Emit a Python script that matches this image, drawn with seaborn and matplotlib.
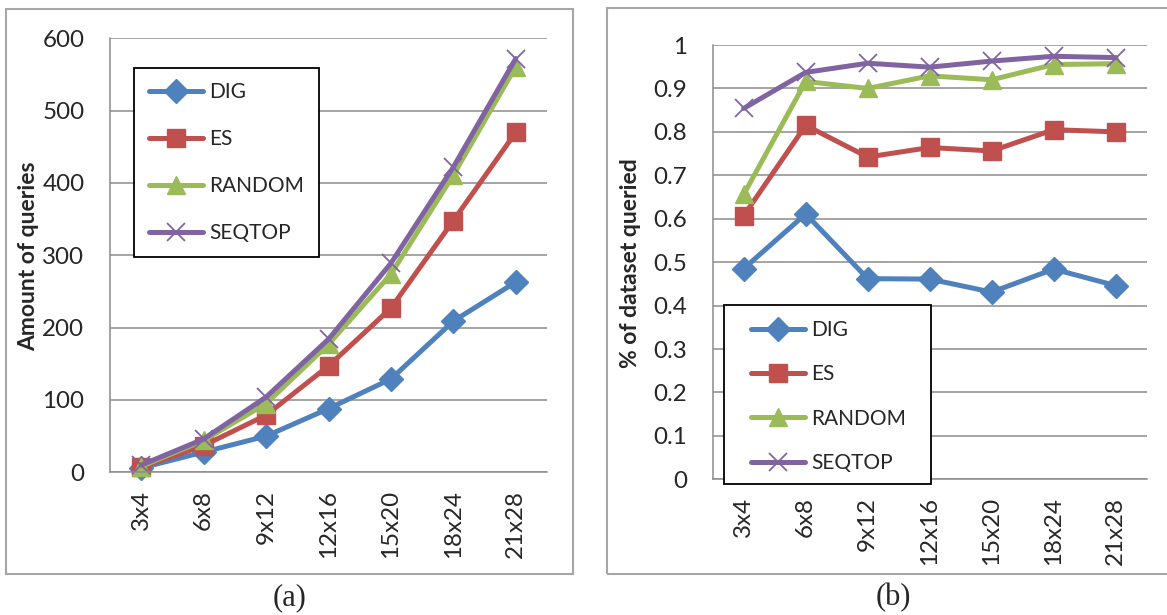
import numpy as np
import matplotlib
matplotlib.use("Agg")
import matplotlib.pyplot as plt
import seaborn as sns
from matplotlib.patches import Rectangle
from matplotlib.ticker import FuncFormatter

# ---------------- data ----------------
categories = ["3x4", "6x8", "9x12", "12x16", "15x20", "18x24", "21x28"]
series_names = ["DIG", "ES", "RANDOM", "SEQTOP"]

# (a) Amount of queries
a_dig = [6, 28, 50, 88, 129, 209, 263]
a_es = [7, 37, 79, 147, 227, 348, 470]
a_random = [8, 44, 95, 177, 274, 411, 561]
a_seqtop = [10, 46, 104, 184, 289, 422, 572]

# (b) % of dataset queried
b_dig = [0.485, 0.611, 0.462, 0.461, 0.431, 0.484, 0.446]
b_es = [0.607, 0.815, 0.742, 0.764, 0.756, 0.805, 0.800]
b_random = [0.656, 0.916, 0.900, 0.929, 0.920, 0.955, 0.957]
b_seqtop = [0.854, 0.937, 0.958, 0.949, 0.963, 0.974, 0.971]

a_yticks = [0, 100, 200, 300, 400, 500, 600]
b_yticks = [0, 0.1, 0.2, 0.3, 0.4, 0.5, 0.6, 0.7, 0.8, 0.9, 1.0]

# ---------------- style ----------------
sns.set_style("white")
plt.rcParams['font.family'] = ['Lato', 'DejaVu Sans']

colors = {"DIG": "#4F81BD", "ES": "#C0504D", "RANDOM": "#9BBB59", "SEQTOP": "#8064A2"}
markers = {"DIG": "D", "ES": "s", "RANDOM": "^", "SEQTOP": "x"}
msizes = {"DIG": 12, "ES": 13, "RANDOM": 13.5, "SEQTOP": 13.5}
GRID = "#8c8c8c"
BORDER = "#a6a6a6"

W, H = 1167, 615
fig = plt.figure(figsize=(W / 100, H / 100), dpi=100)


def px_axes(x0, y0, x1, y1):
    return fig.add_axes([x0 / W, 1 - y1 / H, (x1 - x0) / W, (y1 - y0) / H])


def fig_rect(x0, y0, x1, y1, **kw):
    r = Rectangle((x0 / W, 1 - y1 / H), (x1 - x0) / W, (y1 - y0) / H,
                  transform=fig.transFigure, clip_on=False, **kw)
    return r


def draw_panel(ax, data, ylim, yticks, fmt):
    pos = np.arange(len(categories))
    for name, vals in zip(series_names, data):
        filled = markers[name] != "x"
        sns.lineplot(x=pos, y=vals, ax=ax, color=colors[name], linewidth=3.6,
                     marker=markers[name], markersize=msizes[name],
                     markeredgecolor=colors[name],
                     markeredgewidth=1.0 if filled else 1.3,
                     label=name, clip_on=False, zorder=2)
    ax.set_xlim(-0.5, len(categories) - 0.5)
    ax.set_ylim(*ylim)
    ax.set_yticks(yticks)
    ax.yaxis.set_major_formatter(FuncFormatter(fmt))
    ax.set_xticks(pos)
    ax.set_xticklabels(categories, rotation=90, fontsize=17.4)
    ax.set_xticks(np.arange(-0.5, len(categories), 1), minor=True)
    ax.tick_params(axis='x', which='major', length=0, pad=13)
    ax.tick_params(axis='x', which='minor', length=6, width=1.1, color=GRID, direction='out')
    ax.tick_params(axis='y', length=6.5, width=1.1, color=GRID, direction='out',
                   pad=12, labelsize=17.4)
    for s in ["top", "right"]:
        ax.spines[s].set_visible(False)
    for s in ["left", "bottom"]:
        ax.spines[s].set_color(GRID)
        ax.spines[s].set_linewidth(1.1)
    ax.set_axisbelow(True)
    ax.yaxis.grid(True, color=GRID, linewidth=1.1)
    ax.xaxis.grid(False)
    ax.set_xlabel("")
    ax.set_ylabel("")
    if ax.get_legend():
        ax.get_legend().remove()


def add_legend(ax, box, anchor, spacing):
    h, l = ax.get_legend_handles_labels()
    leg = ax.legend(h, l, loc='upper left', bbox_to_anchor=(anchor[0] / W, 1 - anchor[1] / H),
                    bbox_transform=fig.transFigure, frameon=False, fontsize=15,
                    handlelength=2.6, handletextpad=0.3, labelspacing=spacing,
                    borderpad=0, borderaxespad=0, numpoints=1)
    leg.set_zorder(6)
    ax.add_patch(fig_rect(*box, facecolor="white", edgecolor="black", linewidth=1.3, zorder=4))


# outer chart borders
fig.patches.append(fig_rect(6, 9, 573, 574, facecolor="none", edgecolor=BORDER, linewidth=1.5))
fig.patches.append(fig_rect(607, 8, 1180, 574, facecolor="none", edgecolor=BORDER, linewidth=1.5))

# panel (a)
ax1 = px_axes(110, 38.3, 547, 472.3)
draw_panel(ax1, [a_dig, a_es, a_random, a_seqtop], (0, 600), a_yticks,
           lambda v, p: f"{v:.0f}")
add_legend(ax1, (134.3, 68.3, 319, 256.7), (149, 82.5), 1.29)

# panel (b)
ax2 = px_axes(712.7, 45, 1146.7, 479.3)
draw_panel(ax2, [b_dig, b_es, b_random, b_seqtop], (0, 1), b_yticks,
           lambda v, p: "0" if abs(v) < 1e-9 else ("1" if abs(v - 1) < 1e-9 else f"{v:.1f}"))
add_legend(ax2, (724, 305, 931, 484), (751, 320), 1.17)

# axis titles
fig.text(28.5 / W, 1 - 256 / H, "Amount of queries", rotation=90, ha="center", va="center",
         fontsize=16.5, fontweight="bold")
fig.text(630.5 / W, 1 - 263 / H, "% of dataset queried", rotation=90, ha="center", va="center",
         fontsize=16.5, fontweight="bold")

# captions
fig.text(290 / W, 1 - 598 / H, "(a)", ha="center", va="center", fontsize=22,
         family=["Liberation Serif", "DejaVu Serif"])
fig.text(893 / W, 1 - 598 / H, "(b)", ha="center", va="center", fontsize=22,
         family=["Liberation Serif", "DejaVu Serif"])

fig.savefig("out.png", dpi=100)
